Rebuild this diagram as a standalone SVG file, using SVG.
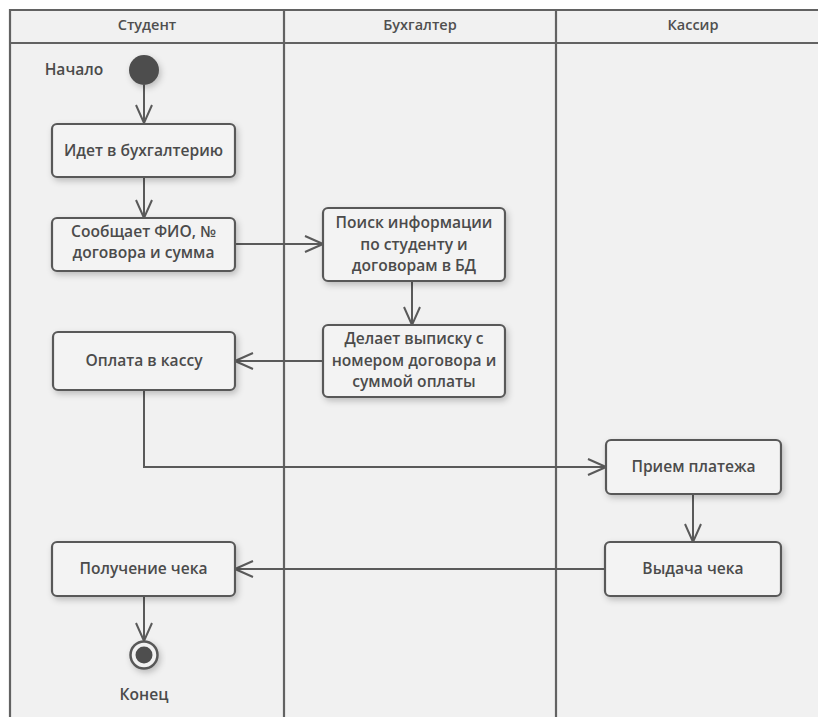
<svg xmlns="http://www.w3.org/2000/svg" width="818" height="717" viewBox="0 0 818 717">
<style>
  .lane{fill:none;stroke:#626262;stroke-width:2.2}
  .hd{font-family:"Open Sans","Noto Sans",sans-serif;font-weight:600;font-size:14.5px;fill:#4f4f4f;text-anchor:middle}
  .t{font-family:"Open Sans","Noto Sans",sans-serif;font-weight:600;font-size:15.6px;fill:#4b4b4b;text-anchor:middle}
  .box{fill:#f3f3f3;stroke:#595959;stroke-width:2.2}
  .c{fill:none;stroke:#5a5a5a;stroke-width:2}
</style>
<defs>
  <filter id="sh" x="-20%" y="-20%" width="150%" height="160%">
    <feDropShadow dx="2" dy="3" stdDeviation="3" flood-color="#000" flood-opacity="0.22"/>
  </filter>
  <marker id="a" viewBox="0 0 20 20" refX="19" refY="10" markerWidth="20" markerHeight="20" markerUnits="userSpaceOnUse" orient="auto">
    <path d="M1,2 L19,10 L1,18" fill="none" stroke="#5a5a5a" stroke-width="2"/>
  </marker>
</defs>
<rect x="0" y="0" width="818" height="717" fill="#ffffff"/>
<rect x="10" y="10" width="820" height="720" fill="#f1f1f1"/>
<g id="lanes">
  <path class="lane" d="M10,717 V10 H830 M10,43 H830 M284,10 V717 M556,10 V717"/>
  <text class="hd" x="147" y="30">Студент</text>
  <text class="hd" x="420" y="30">Бухгалтер</text>
  <text class="hd" x="693" y="30">Кассир</text>
</g>
<g id="connectors">
  <line class="c" x1="144" y1="85" x2="144" y2="123" marker-end="url(#a)"/>
  <line class="c" x1="144" y1="177" x2="144" y2="218" marker-end="url(#a)"/>
  <line class="c" x1="235" y1="244" x2="323" y2="244" marker-end="url(#a)"/>
  <line class="c" x1="412" y1="281" x2="412" y2="325" marker-end="url(#a)"/>
  <line class="c" x1="323" y1="361" x2="235" y2="361" marker-end="url(#a)"/>
  <polyline class="c" points="144,390 144,467 606,467" marker-end="url(#a)"/>
  <line class="c" x1="693" y1="494" x2="693" y2="542" marker-end="url(#a)"/>
  <line class="c" x1="605" y1="569" x2="235" y2="569" marker-end="url(#a)"/>
  <line class="c" x1="144" y1="596" x2="144" y2="641" marker-end="url(#a)"/>
</g>
<g id="start">
  <circle cx="144" cy="70" r="15" fill="#4e4e4e" filter="url(#sh)"/>
  <text class="t" x="74" y="75">Начало</text>
</g>
<g id="n1">
  <rect class="box" x="52" y="124" width="183" height="53" rx="5" filter="url(#sh)"/>
  <text class="t" x="143.5" y="156">Идет в бухгалтерию</text>
</g>
<g id="n2">
  <rect class="box" x="52" y="218" width="183" height="53" rx="5" filter="url(#sh)"/>
  <text class="t" x="143.5" y="237">Сообщает ФИО, №</text>
  <text class="t" x="143.5" y="258">договора и сумма</text>
</g>
<g id="n3">
  <rect class="box" x="323" y="208" width="182" height="73" rx="5" filter="url(#sh)"/>
  <text class="t" x="414" y="228">Поиск информации</text>
  <text class="t" x="414" y="250">по студенту и</text>
  <text class="t" x="414" y="271">договорам в БД</text>
</g>
<g id="n4">
  <rect class="box" x="323" y="325" width="182" height="72" rx="5" filter="url(#sh)"/>
  <text class="t" x="414" y="344">Делает выписку с</text>
  <text class="t" x="414" y="366">номером договора и</text>
  <text class="t" x="414" y="387">суммой оплаты</text>
</g>
<g id="n5">
  <rect class="box" x="53" y="332" width="182" height="58" rx="5" filter="url(#sh)"/>
  <text class="t" x="144" y="366">Оплата в кассу</text>
</g>
<g id="n6">
  <rect class="box" x="606" y="440" width="175" height="54" rx="5" filter="url(#sh)"/>
  <text class="t" x="693.5" y="472">Прием платежа</text>
</g>
<g id="n7">
  <rect class="box" x="605" y="542" width="176" height="54" rx="5" filter="url(#sh)"/>
  <text class="t" x="693" y="574">Выдача чека</text>
</g>
<g id="n8">
  <rect class="box" x="52" y="542" width="183" height="54" rx="5" filter="url(#sh)"/>
  <text class="t" x="143.5" y="574">Получение чека</text>
</g>
<g id="end">
  <circle cx="144" cy="655" r="13.5" fill="#f1f1f1" stroke="#595959" stroke-width="2.5" filter="url(#sh)"/>
  <circle cx="144" cy="655" r="8.5" fill="#4e4e4e"/>
  <text class="t" x="144" y="700">Конец</text>
</g>
</svg>
